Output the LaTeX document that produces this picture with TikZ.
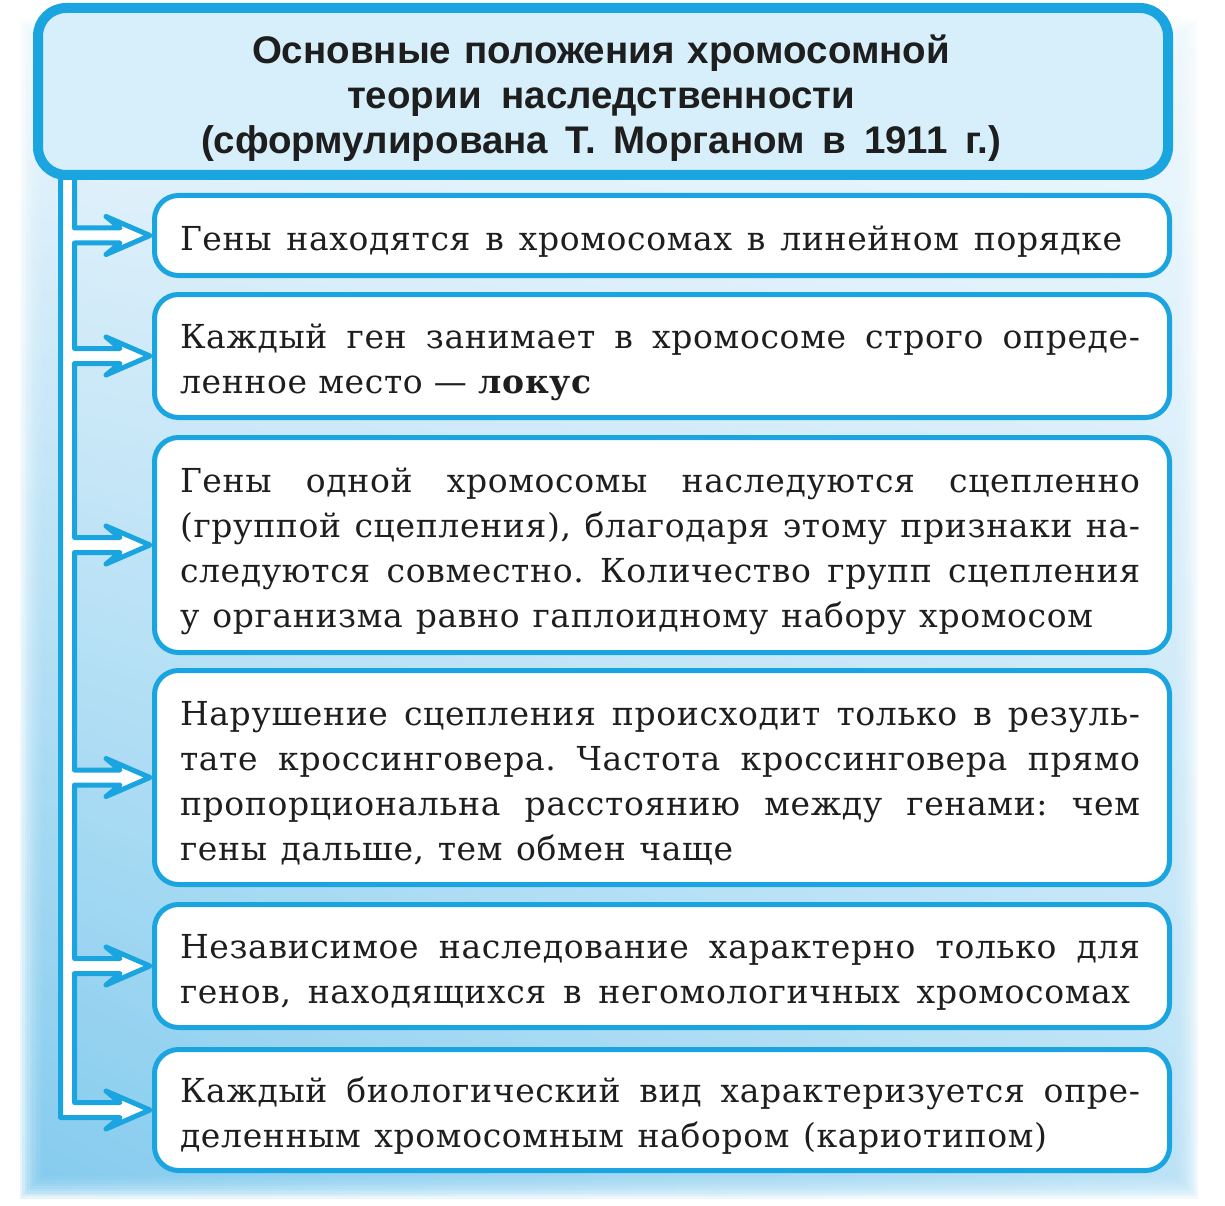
\documentclass[tikz,border=0pt]{standalone}
\usepackage{fontspec}
\setmainfont{DejaVu Serif}
\newfontfamily\bodyfont[LetterSpace=2]{DejaVu Serif}
\newfontfamily\titlefont{Liberation Sans}
\usetikzlibrary{calc,shadings}
\definecolor{cblue}{HTML}{1BA5E0}
\definecolor{hfill}{HTML}{D6EFFA}
\definecolor{txt}{HTML}{1E1E1E}
\definecolor{glowA}{HTML}{74C6EE}
\definecolor{glowB}{HTML}{B4E0F6}
\definecolor{glowC}{HTML}{E9F6FC}
\definecolor{glowD}{HTML}{EEF8FD}
\newcommand\jl[2]{\leavevmode\hbox to #1pt{\spaceskip=\fontdimen2\font plus 1fil\relax
  \xspaceskip=\spaceskip #2}}
\tikzset{
  box/.style={draw=cblue, line width=5pt, fill=white, rounded corners=24pt,
    outer sep=0pt, inner sep=0pt, minimum width=1015pt, anchor=north west},
  btext/.style={text width=960pt, align=left, inner sep=0pt, text=txt,
    font=\bodyfont\fontsize{33}{45}\selectfont\frenchspacing},
  header/.style={draw=cblue, line width=10pt, fill=hfill, rounded corners=28pt,
    outer sep=0pt, minimum width=1130pt, minimum height=167pt},
  title/.style={align=center, text=txt, inner sep=0pt,
    font=\titlefont\bfseries\fontsize{38.5}{45}\selectfont\frenchspacing},
  conn/.style={draw=cblue, fill=white, line width=5pt, line join=round}
}
\begin{document}
\begin{tikzpicture}[x=1pt,y=-1pt]
\useasboundingbox (0,0) rectangle (1225,1206);
\fill[white] (0,0) rectangle (1225,1206);
% soft glow behind the scheme
\foreach \i in {0,...,9}{
  \shade[opacity=0.18, upper left=glowC, upper right=glowD,
         lower left=glowA, lower right=glowB]
    (20+\i*2.5,20+\i*2.5) rectangle (1198-\i*2.5,1198-\i*2.5);
}
% boxes
\node[box, minimum height=80pt]  (b1) at (154.5,195.5) {};
\node[box, minimum height=123pt] (b2) at (154.5,294.5) {};
\node[box, minimum height=215pt] (b3) at (154.5,437.5) {};
\node[box, minimum height=214pt] (b4) at (154.5,670.5) {};
\node[box, minimum height=123pt] (b5) at (154.5,904.5) {};
\node[box, minimum height=121pt] (b6) at (154.5,1049.5) {};
% texts
\node[btext] (t1) at ($(b1.center)+(-2,6)$)
  {\jl{942}{Гены находятся в хромосомах в линейном порядке}};
\node[btext] (t2) at ($(b2.center)+(-2,6)$)
  {\jl{960}{Каждый ген занимает в хромосоме строго опреде-}\\
   \jl{401}{ленное место — \textbf{локус}}};
\node[btext] (t3) at ($(b3.center)+(-2,6)$)
  {\jl{960}{Гены одной хромосомы наследуются сцепленно}\\
   \jl{960}{(группой сцепления), благодаря этому признаки на-}\\
   \jl{960}{следуются совместно. Количество групп сцепления}\\
   \jl{913}{у организма равно гаплоидному набору хромосом}};
\node[btext] (t4) at ($(b4.center)+(-2,6)$)
  {\jl{960}{Нарушение сцепления происходит только в резуль-}\\
   \jl{960}{тате кроссинговера. Частота кроссинговера прямо}\\
   \jl{960}{пропорциональна расстоянию между генами: чем}\\
   \jl{553}{гены дальше, тем обмен чаще}};
\node[btext] (t5) at ($(b5.center)+(-2,6)$)
  {\jl{960}{Независимое наследование характерно только для}\\
   \jl{950}{генов, находящихся в негомологичных хромосомах}};
\node[btext] (t6) at ($(b6.center)+(-2,6)$)
  {\jl{960}{Каждый биологический вид характеризуется опре-}\\
   \jl{867}{деленным хромосомным набором (кариотипом)}};
% connector: trunk with six branch arrows
\filldraw[conn] (74.5,170)
  \foreach \i in {1,...,5}{
    -- ($(b\i.west)+(-80,-7.5)$) -- ($(b\i.west)+(-34.5,-7.5)$)
    -- ($(b\i.west)+(-48.5,-19)$) -- ($(b\i.west)+(-4.5,0)$)
    -- ($(b\i.west)+(-48.5,19)$) -- ($(b\i.west)+(-34.5,7.5)$)
    -- ($(b\i.west)+(-80,7.5)$) }
  -- ($(b6.west)+(-80,-7.5)$) -- ($(b6.west)+(-34.5,-7.5)$)
  -- ($(b6.west)+(-48.5,-19)$) -- ($(b6.west)+(-4.5,0)$)
  -- ($(b6.west)+(-48.5,19)$) -- ($(b6.west)+(-34.5,7.5)$)
  -- ($(b6.west)+(-94,7.5)$) -- (60.5,170) -- cycle;
% header
\node[header] (h) at (603,91.5) {};
\node[title] (ht) at ($(h.center)+(-2,7)$)
  {\jl{698}{Основные положения хромосомной}\\
   \jl{508}{теории наследственности}\\
   \jl{800}{(сформулирована Т. Морганом в 1911 г.)}};
\end{tikzpicture}
\end{document}
